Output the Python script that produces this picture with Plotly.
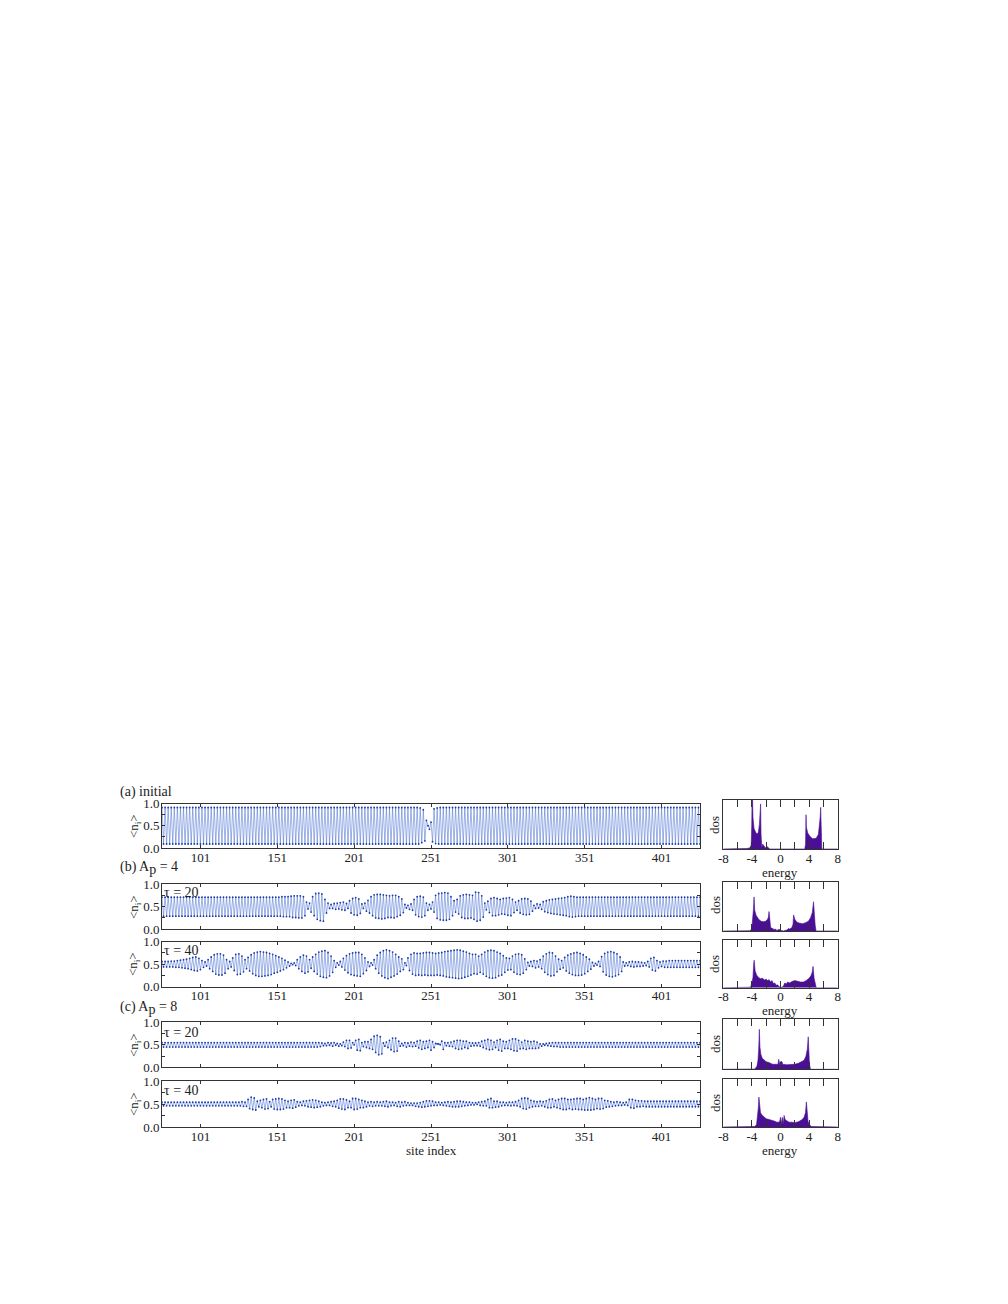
import plotly.graph_objects as go

W, H = 1008, 1304
sites = list(range(76, 427))
site_ticks = [101, 151, 201, 251, 301, 351, 401]

n_a = [
.91,.09,.91,.09,.91,.09,.91,.09,.91,.09,.91,.09,.91,.09,.91,.09,.91,.09,.91,.09,
.91,.09,.91,.09,.91,.09,.91,.09,.91,.09,.91,.09,.91,.09,.91,.09,.91,.09,.91,.09,
.91,.09,.91,.09,.91,.09,.91,.09,.91,.09,.91,.09,.91,.09,.91,.09,.91,.09,.91,.09,
.91,.09,.91,.09,.91,.09,.91,.09,.91,.09,.91,.09,.91,.09,.91,.09,.91,.09,.91,.09,
.91,.09,.91,.09,.91,.09,.91,.09,.91,.09,.91,.09,.91,.09,.91,.09,.91,.09,.91,.09,
.91,.09,.91,.09,.91,.09,.91,.09,.91,.09,.91,.09,.91,.09,.91,.09,.91,.09,.91,.09,
.91,.09,.91,.09,.91,.09,.91,.09,.91,.09,.91,.09,.91,.09,.91,.09,.91,.09,.91,.09,
.91,.09,.91,.09,.91,.09,.91,.09,.91,.09,.91,.09,.91,.09,.91,.09,.91,.09,.91,.09,
.91,.09,.91,.09,.91,.09,.91,.09,.90,.12,.86,.16,.62,.50,.42,.58,.14,.88,.10,.90,
.09,.91,.09,.91,.09,.91,.09,.91,.09,.91,.09,.91,.09,.91,.09,.91,.09,.91,.09,.91,
.09,.91,.09,.91,.09,.91,.09,.91,.09,.91,.09,.91,.09,.91,.09,.91,.09,.91,.09,.91,
.09,.91,.09,.91,.09,.91,.09,.91,.09,.91,.09,.91,.09,.91,.09,.91,.09,.91,.09,.91,
.09,.91,.09,.91,.09,.91,.09,.91,.09,.91,.09,.91,.09,.91,.09,.91,.09,.91,.09,.91,
.09,.91,.09,.91,.09,.91,.09,.91,.09,.91,.09,.91,.09,.91,.09,.91,.09,.91,.09,.91,
.09,.91,.09,.91,.09,.91,.09,.91,.09,.91,.09,.91,.09,.91,.09,.91,.09,.91,.09,.91,
.09,.91,.09,.91,.09,.91,.09,.91,.09,.91,.09,.91,.09,.91,.09,.91,.09,.91,.09,.91,
.09,.91,.09,.91,.09,.91,.09,.91,.09,.91,.09,.91,.09,.91,.09,.91,.09,.91,.09,.91,
.09,.91,.09,.91,.09,.91,.09,.91,.09,.91,.09]

n_b20 = [
.71,.29,.71,.29,.71,.29,.71,.29,.71,.29,.71,.29,.71,.29,.71,.29,.71,.29,.71,.29,
.71,.29,.71,.29,.71,.29,.71,.29,.71,.29,.71,.29,.71,.29,.71,.29,.71,.29,.71,.29,
.71,.29,.71,.29,.71,.29,.71,.29,.71,.29,.71,.29,.71,.29,.71,.29,.71,.29,.71,.29,
.71,.29,.71,.29,.71,.29,.71,.29,.71,.29,.71,.29,.71,.29,.71,.29,.71,.29,.72,.28,
.72,.28,.72,.28,.73,.26,.74,.26,.74,.25,.74,.25,.72,.30,.60,.45,.58,.38,.72,.30,
.79,.22,.80,.19,.78,.18,.66,.36,.58,.46,.55,.46,.57,.44,.58,.45,.59,.43,.60,.42,
.57,.46,.63,.36,.68,.32,.70,.31,.67,.35,.56,.46,.58,.40,.64,.36,.72,.30,.76,.25,
.77,.24,.77,.23,.76,.24,.75,.26,.74,.26,.75,.25,.75,.28,.72,.31,.67,.37,.55,.47,
.53,.44,.56,.42,.66,.32,.72,.28,.73,.27,.71,.30,.58,.42,.55,.45,.60,.38,.75,.24,
.79,.21,.80,.20,.81,.20,.80,.22,.72,.30,.63,.38,.66,.34,.74,.26,.76,.24,.77,.24,
.76,.25,.75,.22,.82,.18,.81,.20,.74,.27,.58,.43,.62,.37,.68,.30,.70,.30,.68,.32,
.66,.34,.68,.33,.69,.31,.70,.30,.66,.37,.60,.42,.63,.36,.67,.33,.68,.32,.67,.33,
.62,.40,.53,.46,.56,.47,.55,.44,.61,.39,.63,.37,.65,.35,.66,.34,.67,.33,.68,.32,
.69,.31,.70,.30,.72,.28,.73,.27,.72,.28,.71,.29,.71,.29,.71,.29,.71,.29,.71,.29,
.71,.29,.71,.29,.71,.29,.71,.29,.71,.29,.71,.29,.71,.29,.71,.29,.71,.29,.71,.29,
.71,.29,.71,.29,.71,.29,.71,.29,.71,.29,.71,.29,.71,.29,.71,.29,.71,.29,.71,.29,
.71,.29,.71,.29,.71,.29,.71,.29,.71,.29,.71,.29,.71,.29,.71,.29,.71,.29,.71,.29,
.71,.29,.71,.29,.71,.29,.71,.29,.71,.29,.71]

n_b40 = [
.56,.44,.56,.44,.56,.44,.57,.44,.57,.43,.58,.43,.59,.42,.60,.41,.61,.40,.63,.38,
.65,.36,.66,.35,.63,.38,.58,.43,.55,.46,.60,.40,.66,.34,.71,.28,.73,.26,.73,.26,
.70,.30,.60,.40,.56,.44,.64,.36,.72,.27,.73,.28,.68,.33,.60,.40,.65,.35,.71,.29,
.75,.25,.77,.23,.78,.23,.77,.24,.76,.25,.74,.27,.72,.30,.69,.32,.66,.35,.63,.38,
.59,.42,.55,.46,.52,.49,.53,.47,.60,.40,.66,.34,.70,.30,.68,.33,.60,.41,.66,.34,
.72,.28,.77,.23,.79,.21,.80,.20,.76,.24,.68,.32,.58,.43,.53,.48,.56,.44,.63,.37,
.69,.31,.73,.27,.75,.25,.76,.24,.76,.23,.72,.29,.64,.36,.55,.45,.53,.48,.60,.40,
.70,.30,.76,.24,.80,.20,.82,.18,.80,.21,.77,.24,.72,.28,.66,.34,.62,.38,.53,.47,
.64,.36,.72,.28,.75,.25,.74,.26,.74,.25,.75,.26,.76,.25,.76,.25,.75,.25,.74,.26,
.75,.25,.76,.24,.78,.22,.79,.21,.80,.20,.81,.19,.82,.18,.81,.19,.79,.21,.77,.23,
.74,.26,.72,.29,.72,.28,.68,.32,.72,.28,.77,.23,.80,.20,.81,.19,.80,.20,.77,.24,
.74,.26,.69,.32,.64,.37,.63,.38,.68,.32,.72,.28,.73,.27,.71,.30,.62,.38,.54,.46,
.56,.45,.58,.42,.57,.44,.60,.40,.68,.32,.73,.27,.76,.24,.75,.25,.68,.33,.61,.39,
.58,.42,.65,.35,.70,.30,.73,.27,.75,.25,.76,.25,.74,.26,.71,.29,.66,.34,.61,.39,
.54,.46,.52,.48,.56,.45,.67,.33,.74,.26,.77,.23,.78,.22,.76,.24,.73,.27,.66,.34,
.55,.46,.53,.47,.55,.45,.56,.44,.55,.45,.55,.45,.54,.46,.53,.47,.56,.44,.63,.37,
.65,.35,.58,.42,.55,.45,.57,.43,.57,.43,.58,.43,.58,.43,.58,.43,.58,.43,.58,.43,
.58,.43,.58,.43,.58,.43,.58,.43,.58,.43,.58]

n_c20 = [
.55,.45,.55,.45,.55,.45,.55,.45,.55,.45,.55,.45,.55,.45,.55,.45,.55,.45,.55,.45,
.55,.45,.55,.45,.55,.45,.55,.45,.55,.45,.55,.45,.55,.45,.55,.45,.55,.45,.55,.45,
.55,.45,.55,.45,.55,.45,.55,.45,.55,.45,.55,.45,.55,.45,.55,.45,.55,.45,.55,.45,
.55,.45,.55,.45,.55,.45,.55,.45,.55,.45,.55,.45,.55,.45,.55,.45,.55,.45,.55,.45,
.55,.45,.55,.45,.55,.45,.55,.45,.55,.45,.55,.45,.55,.45,.55,.45,.55,.45,.55,.45,
.55,.45,.55,.46,.54,.48,.53,.48,.55,.49,.54,.47,.55,.49,.53,.47,.52,.48,.56,.46,
.60,.42,.60,.43,.55,.50,.60,.38,.62,.37,.55,.46,.57,.44,.57,.42,.62,.40,.69,.33,
.71,.28,.68,.30,.54,.47,.56,.44,.60,.39,.65,.35,.65,.36,.58,.47,.53,.48,.55,.45,
.54,.47,.56,.46,.55,.47,.58,.43,.60,.40,.57,.42,.58,.44,.60,.38,.57,.44,.53,.52,
.52,.50,.58,.40,.55,.48,.55,.47,.56,.46,.58,.42,.60,.40,.60,.41,.58,.44,.58,.42,
.55,.47,.54,.48,.54,.48,.55,.47,.58,.44,.60,.41,.62,.39,.60,.40,.56,.44,.60,.38,
.62,.36,.58,.42,.57,.42,.60,.40,.63,.37,.63,.36,.60,.41,.56,.42,.60,.40,.58,.42,
.57,.42,.58,.42,.56,.43,.52,.47,.52,.49,.53,.48,.54,.47,.55,.46,.55,.46,.55,.45,
.55,.45,.55,.45,.55,.45,.55,.45,.55,.45,.55,.45,.55,.45,.55,.45,.55,.45,.55,.45,
.55,.45,.55,.45,.55,.45,.55,.45,.55,.45,.55,.45,.55,.45,.55,.45,.55,.45,.55,.45,
.55,.45,.55,.45,.55,.45,.55,.45,.55,.45,.55,.45,.55,.45,.55,.45,.55,.45,.55,.45,
.55,.45,.55,.45,.55,.45,.55,.45,.55,.45,.55,.45,.55,.45,.55,.45,.55,.45,.55,.45,
.55,.45,.55,.45,.55,.45,.55,.45,.55,.45,.55]

n_c40 = [
.54,.46,.54,.46,.54,.46,.54,.46,.54,.46,.54,.46,.54,.46,.54,.46,.54,.46,.54,.46,
.54,.46,.54,.46,.54,.46,.54,.46,.54,.46,.54,.46,.54,.46,.54,.46,.54,.46,.54,.46,
.54,.46,.54,.46,.54,.46,.54,.46,.54,.46,.54,.46,.55,.45,.54,.45,.60,.40,.65,.38,
.63,.37,.56,.44,.58,.42,.60,.39,.61,.40,.55,.44,.60,.39,.61,.38,.62,.38,.61,.39,
.58,.42,.56,.42,.58,.41,.59,.43,.55,.46,.54,.47,.56,.46,.57,.44,.58,.43,.59,.42,
.58,.43,.56,.44,.54,.46,.53,.47,.54,.47,.55,.45,.56,.44,.58,.41,.61,.39,.61,.38,
.59,.42,.56,.42,.62,.38,.62,.39,.60,.42,.58,.42,.56,.44,.54,.46,.55,.45,.54,.46,
.55,.46,.54,.46,.55,.45,.56,.44,.54,.46,.54,.47,.53,.45,.55,.44,.54,.46,.55,.47,
.53,.47,.52,.47,.52,.45,.52,.44,.53,.43,.55,.44,.57,.45,.57,.46,.56,.47,.54,.47,
.54,.48,.53,.47,.54,.46,.55,.45,.54,.44,.55,.44,.56,.44,.56,.45,.55,.46,.54,.47,
.54,.48,.53,.48,.53,.49,.54,.47,.55,.46,.56,.46,.60,.42,.62,.42,.56,.43,.56,.44,
.54,.46,.54,.47,.53,.47,.54,.46,.54,.47,.55,.46,.58,.44,.62,.40,.63,.39,.62,.42,
.58,.44,.56,.45,.55,.45,.56,.46,.55,.44,.57,.42,.60,.42,.61,.44,.58,.42,.60,.40,
.62,.38,.62,.38,.60,.40,.60,.38,.61,.39,.62,.38,.62,.38,.60,.37,.62,.37,.64,.37,
.62,.38,.60,.40,.62,.39,.62,.40,.58,.43,.57,.44,.55,.45,.54,.46,.55,.47,.54,.47,
.53,.48,.54,.47,.60,.42,.60,.41,.58,.44,.57,.44,.57,.45,.56,.44,.56,.44,.56,.44,
.56,.44,.56,.44,.56,.44,.56,.44,.56,.44,.56,.44,.56,.44,.56,.44,.56,.44,.56,.44,
.56,.44,.56,.44,.56,.44,.56,.44,.56,.44,.56]

e_a = [-8,-5.2,-4.8,-4.3,-4.1,-4.02,-3.96,-3.85,-3.7,-3.5,-3.3,-3.1,-2.95,-2.85,-2.78,-2.72,-2.62,-2.5,-2.3,-2.1,-1.9,-1.7,-1.5,0,3.4,3.5,3.57,3.62,3.8,4.1,4.5,5,5.3,5.45,5.55,5.62,5.72,5.78,8]
d_a = [0,0,.01,.02,.08,.5,1.3,.65,.42,.35,.3,.34,.5,.75,.92,.3,.03,.1,.06,.02,.05,.02,0,0,0,.1,.7,.45,.33,.26,.21,.22,.3,.45,.65,.85,.3,0,0]

e_b20 = [-8,-4.3,-4.02,-3.9,-3.78,-3.7,-3.6,-3.4,-3.2,-3,-2.7,-2.4,-2.1,-1.85,-1.7,-1.6,-1.5,-1.38,-1.1,-.9,-.7,-.5,-.3,-.1,.1,.4,.9,1.1,1.3,1.6,1.75,1.83,2,2.3,2.7,3.1,3.5,3.9,4.2,4.45,4.62,4.72,4.85,4.97,8]
d_b20 = [0,.005,.04,.2,.45,.7,.42,.32,.26,.23,.2,.19,.2,.23,.28,.4,.25,.07,.05,.03,.04,.01,.03,.03,.01,0,.02,.05,.04,.07,.14,.33,.24,.18,.16,.15,.17,.2,.27,.38,.6,.3,.12,0,0]

e_b40 = [-8,-4.2,-4,-3.85,-3.75,-3.68,-3.55,-3.35,-3.1,-2.8,-2.5,-2.25,-2,-1.8,-1.6,-1.4,-1.2,-1,-.8,-.6,-.4,-.2,0,.2,.4,.6,.8,1,1.3,1.6,2,2.4,2.8,3.2,3.6,4,4.25,4.45,4.55,4.7,4.85,5,8]
d_b40 = [0,.01,.1,.22,.5,.58,.36,.27,.22,.19,.2,.16,.18,.15,.17,.12,.15,.09,.1,.05,.06,.02,.01,.01,.03,.1,.08,.12,.1,.13,.15,.13,.12,.12,.15,.2,.25,.33,.45,.2,.08,0,0]

e_c20 = [-8,-3.6,-3.3,-3.15,-3.05,-2.96,-2.88,-2.75,-2.55,-2.3,-2,-1.7,-1.4,-1.1,-.8,-.5,-.35,-.25,-.15,-.05,.05,.2,.35,.5,.8,1.1,1.5,2,2.5,3,3.3,3.55,3.75,3.88,3.95,4.05,4.2,8]
d_c20 = [0,.005,.06,.18,.4,.8,.45,.3,.22,.18,.15,.14,.12,.1,.1,.09,.1,.2,.1,.07,.16,.15,.09,.1,.09,.09,.09,.1,.12,.15,.18,.26,.4,.65,.35,.1,0,0]

e_c40 = [-8,-3.6,-3.35,-3.2,-3.1,-3.02,-2.92,-2.8,-2.6,-2.3,-2,-1.7,-1.4,-1.1,-.8,-.5,-.3,-.1,0,.1,.25,.4,.5,.65,.9,1.2,1.6,2,2.5,3,3.3,3.5,3.62,3.72,3.85,4,4.3,8]
d_c40 = [0,.01,.05,.2,.4,.62,.42,.3,.25,.2,.17,.16,.15,.13,.12,.1,.1,.12,.2,.05,.2,.06,.24,.15,.12,.1,.1,.09,.11,.15,.2,.3,.52,.28,.12,.06,.01,0]

line_panels = [
    (n_a,   803.5, 848.0, True),
    (n_b20, 884.0, 929.3, False),
    (n_b40, 941.7, 986.7, True),
    (n_c20, 1022.3, 1067.3, False),
    (n_c40, 1081.0, 1127.0, True),
]
dos_panels = [
    (e_a,   d_a,   800.0, 849.0, True),
    (e_b20, d_b20, 882.3, 931.0, False),
    (e_b40, d_b40, 940.3, 987.7, True),
    (e_c20, d_c20, 1019.3, 1069.3, False),
    (e_c40, d_c40, 1078.7, 1127.0, True),
]
L0, L1 = 162.0, 700.0
R0, R1 = 723.3, 837.7
FONT = "Liberation Serif"
AX = "#333333"

fig = go.Figure()
layout = {}
idx = 1

def add_axes(i, x0, x1, y0, y1, xr, yr, xticks, xminor, show_x, yticks, yminor, ticklen):
    sx = "" if i == 1 else str(i)
    common = dict(showgrid=False, zeroline=False, showline=True, linecolor=AX, linewidth=1,
                  mirror="ticks", ticks="inside", tickcolor=AX, tickwidth=1, automargin=False,
                  tickfont=dict(family=FONT, size=13, color="#222222"), ticklen=ticklen)
    minor = dict(ticks="inside", ticklen=ticklen, tickcolor=AX, tickwidth=1, tickmode="array")
    xa = dict(domain=[x0 / W, x1 / W], range=xr, anchor="y" + sx, tickmode="array",
              tickvals=xticks, ticktext=[str(t) for t in xticks], showticklabels=show_x,
              ticklabelstandoff=-3, **common)
    if xminor:
        xa["minor"] = dict(tickvals=xminor, **minor)
    ya = dict(domain=[1 - y1 / H, 1 - y0 / H], range=yr, anchor="x" + sx, tickmode="array",
              tickvals=yticks, ticktext=["%.1f" % t for t in yticks], showticklabels=bool(yticks),
              ticklabelstandoff=-1, **common)
    if yminor:
        ya["minor"] = dict(tickvals=yminor, **minor)
    layout["xaxis" + sx] = xa
    layout["yaxis" + sx] = ya

for vals, top, bot, labelled in line_panels:
    sx = "" if idx == 1 else str(idx)
    fig.add_trace(go.Scatter(x=sites[:len(vals)], y=vals, mode="lines+markers",
                             line=dict(color="#3f66cf", width=0.5),
                             marker=dict(color="#1c3aa9", size=1.8),
                             xaxis="x" + sx, yaxis="y" + sx, showlegend=False, hoverinfo="skip"))
    add_axes(idx, L0, L1, top, bot, [76, 426], [0, 1], site_ticks, None, labelled,
             [0, .5, 1], [.25, .75], 3)
    idx += 1

for e, d, top, bot, labelled in dos_panels:
    sx = str(idx)
    fig.add_trace(go.Scatter(x=e, y=d, mode="lines", fill="tozeroy",
                             line=dict(color="#4b0f96", width=0.6), fillcolor="#4b0f96",
                             xaxis="x" + sx, yaxis="y" + sx, showlegend=False, hoverinfo="skip"))
    add_axes(idx, R0, R1, top, bot, [-8, 8], [0, 1], [-8, -4, 0, 4, 8], [-6, -2, 2, 6], labelled,
             [], None, 7)
    layout["yaxis" + sx]["ticks"] = ""
    idx += 1

def txt(x, y, s, size=14, angle=0, xanchor="center"):
    return dict(x=x / W, y=1 - y / H, xref="paper", yref="paper", text=s, showarrow=False,
                font=dict(family=FONT, size=size, color="#222222"), textangle=angle,
                xanchor=xanchor, yanchor="middle", borderpad=0)

ap = 'A<sub><span style="font-size:14px">p</span></sub>'
ann = [
    txt(119, 792, "(a) initial", xanchor="left"),
    txt(119, 868, "(b) " + ap + " = 4", xanchor="left"),
    txt(119, 1008, "(c) " + ap + " = 8", xanchor="left"),
    txt(163, 892, "τ = 20", xanchor="left"),
    txt(163, 950, "τ = 40", xanchor="left"),
    txt(163, 1032, "τ = 20", xanchor="left"),
    txt(163, 1090, "τ = 40", xanchor="left"),
    txt(431, 1150, "site index", size=13),
    txt(780, 872, "energy", size=13),
    txt(780, 1010, "energy", size=13),
    txt(780, 1150, "energy", size=13),
]
for yc in [826, 907, 964, 1045, 1104]:
    ann.append(txt(134, yc, "&lt;n<sub>i</sub>&gt;", size=13, angle=-90))
for yc in [825, 905, 964, 1044, 1103]:
    ann.append(txt(715, yc, "dos", size=13, angle=-90))

fig.update_layout(template="none", width=W, height=H, margin=dict(l=0, r=0, t=0, b=0),
                  paper_bgcolor="white", plot_bgcolor="white", showlegend=False,
                  annotations=ann, **layout)
fig.write_html("out.html", config={"displayModeBar": False},
               post_script="document.body.style.margin='0';")
